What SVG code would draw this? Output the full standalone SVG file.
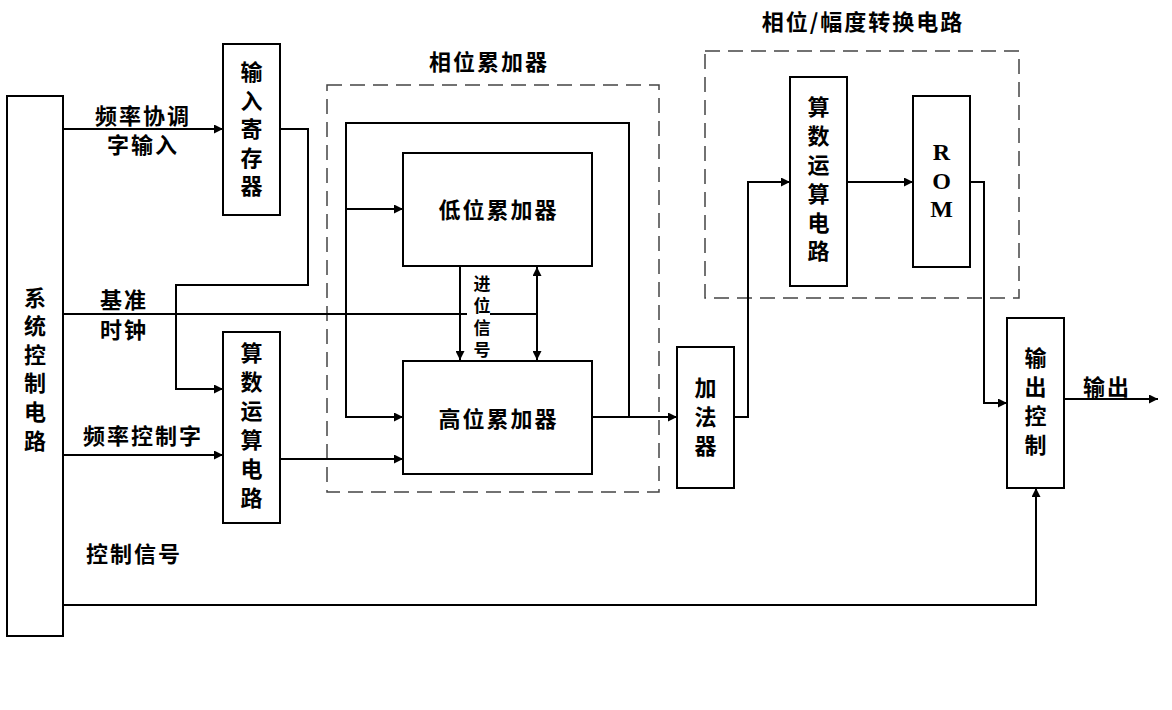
<svg xmlns="http://www.w3.org/2000/svg" width="1172" height="710" viewBox="0 0 1172 710">
<style>
.box{fill:#fff;stroke:#000;stroke-width:2}
.dash{fill:none;stroke:#444;stroke-width:1.5;stroke-dasharray:15 8}
.ln{fill:none;stroke:#000;stroke-width:2}
text{font-family:"Noto Sans CJK SC","Noto Sans",sans-serif;font-weight:bold;font-size:22px;letter-spacing:2px;fill:#000;text-anchor:middle;dominant-baseline:central}
.v{writing-mode:vertical-rl;dominant-baseline:auto;letter-spacing:6.8px}
.sm{font-size:17px;letter-spacing:5px;writing-mode:vertical-rl;dominant-baseline:auto}
.rom{font-family:"Liberation Serif",serif;font-size:24px;letter-spacing:0}
</style>
<defs>
<marker id="arr" viewBox="0 0 10 10" refX="10" refY="5" markerWidth="11" markerHeight="9" markerUnits="userSpaceOnUse" orient="auto-start-reverse">
<path d="M0,0 L10,5 L0,10 Z" fill="#000"/>
</marker>
</defs>
<rect width="1172" height="710" fill="#fff"/>

<g id="group-phase-acc">
<rect class="dash" x="327" y="85" width="332" height="407"/>
<text x="489" y="60">相位累加器</text>
</g>
<g id="group-phase-amp">
<rect class="dash" x="705" y="51" width="314" height="247"/>
<text x="863" y="20">相位/幅度转换电路</text>
</g>

<g id="connectors">
<path class="ln" d="M63,129 H223" marker-end="url(#arr)"/>
<path class="ln" d="M280,129 H308 V285 H176 V389 H223" marker-end="url(#arr)"/>
<path class="ln" d="M63,314 H467"/>
<path class="ln" d="M490,314 H537"/>
<path class="ln" d="M63,455 H223" marker-end="url(#arr)"/>
<path class="ln" d="M280,459 H403" marker-end="url(#arr)"/>
<path class="ln" d="M629,417 V123 H346 V417 H403" marker-end="url(#arr)"/>
<path class="ln" d="M346,209 H403" marker-end="url(#arr)"/>
<path class="ln" d="M460,267 V360" marker-end="url(#arr)"/>
<path class="ln" d="M537,267 V360" marker-start="url(#arr)" marker-end="url(#arr)"/>
<path class="ln" d="M592,417 H677" marker-end="url(#arr)"/>
<path class="ln" d="M734,417 H748 V182 H790" marker-end="url(#arr)"/>
<path class="ln" d="M847,182 H913" marker-end="url(#arr)"/>
<path class="ln" d="M970,182 H984 V403 H1007" marker-end="url(#arr)"/>
<path class="ln" d="M1064,399 H1158" marker-end="url(#arr)"/>
<path class="ln" d="M63,605 H1036 V488" marker-end="url(#arr)"/>
<text x="143" y="114">频率协调</text>
<text x="143" y="143">字输入</text>
<text x="124" y="298">基准</text>
<text x="124" y="328">时钟</text>
<text x="143" y="434">频率控制字</text>
<text x="134" y="552">控制信号</text>
<text class="sm" x="482" y="319">进位信号</text>
<text x="1107" y="385">输出</text>
</g>

<g id="sys-ctrl">
<rect class="box" x="7" y="96" width="56" height="540"/>
<text class="v" x="35" y="372" style="letter-spacing:6.6px">系统控制电路</text>
</g>

<g id="input-reg">
<rect class="box" x="223" y="44" width="57" height="171"/>
<text class="v" x="251.5" y="132" style="letter-spacing:6.5px">输入寄存器</text>
</g>

<g id="arith-left">
<rect class="box" x="223" y="332" width="57" height="191"/>
<text class="v" x="251.5" y="429" style="letter-spacing:7px">算数运算电路</text>
</g>

<g id="low-acc">
<rect class="box" x="403" y="153" width="189" height="113"/>
<text x="498.5" y="208">低位累加器</text>
</g>

<g id="high-acc">
<rect class="box" x="403" y="361" width="189" height="113"/>
<text x="498.5" y="417">高位累加器</text>
</g>

<g id="adder">
<rect class="box" x="677" y="347" width="57" height="141"/>
<text class="v" x="705.5" y="420.5" style="letter-spacing:7px">加法器</text>
</g>

<g id="arith-right">
<rect class="box" x="790" y="77" width="57" height="209"/>
<text class="v" x="818.5" y="182.5">算数运算电路</text>
</g>

<g id="rom">
<rect class="box" x="913" y="96" width="57" height="171"/>
<text class="rom" x="941.5" y="152">R</text>
<text class="rom" x="941.5" y="181">O</text>
<text class="rom" x="941.5" y="209">M</text>
</g>

<g id="out-ctrl">
<rect class="box" x="1007" y="318" width="57" height="170"/>
<text class="v" x="1035.5" y="405" style="letter-spacing:7px">输出控制</text>
</g>
</svg>
